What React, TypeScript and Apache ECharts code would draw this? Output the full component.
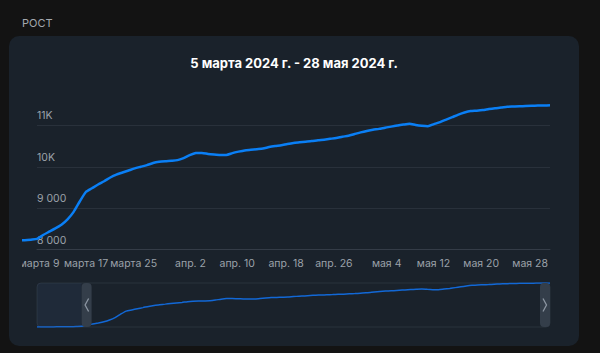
import React, { useEffect, useRef } from "react";
import * as echarts from "echarts";

const dates = [
  "2024-02-26", "2024-02-27", "2024-02-28", "2024-02-29",
  "2024-03-01", "2024-03-02", "2024-03-03", "2024-03-04", "2024-03-05", "2024-03-06", "2024-03-07", "2024-03-08",
  "2024-03-09", "2024-03-10", "2024-03-11", "2024-03-12", "2024-03-13", "2024-03-14", "2024-03-15", "2024-03-16",
  "2024-03-17", "2024-03-18", "2024-03-19", "2024-03-20", "2024-03-21", "2024-03-22", "2024-03-23", "2024-03-24",
  "2024-03-25", "2024-03-26", "2024-03-27", "2024-03-28", "2024-03-29", "2024-03-30", "2024-03-31",
  "2024-04-01", "2024-04-02", "2024-04-03", "2024-04-04", "2024-04-05", "2024-04-06", "2024-04-07", "2024-04-08",
  "2024-04-09", "2024-04-10", "2024-04-11", "2024-04-12", "2024-04-13", "2024-04-14", "2024-04-15", "2024-04-16",
  "2024-04-17", "2024-04-18", "2024-04-19", "2024-04-20", "2024-04-21", "2024-04-22", "2024-04-23", "2024-04-24",
  "2024-04-25", "2024-04-26", "2024-04-27", "2024-04-28", "2024-04-29", "2024-04-30",
  "2024-05-01", "2024-05-02", "2024-05-03", "2024-05-04", "2024-05-05", "2024-05-06", "2024-05-07", "2024-05-08",
  "2024-05-09", "2024-05-10", "2024-05-11", "2024-05-12", "2024-05-13", "2024-05-14", "2024-05-15", "2024-05-16",
  "2024-05-17", "2024-05-18", "2024-05-19", "2024-05-20", "2024-05-21", "2024-05-22", "2024-05-23", "2024-05-24",
  "2024-05-25", "2024-05-26", "2024-05-27", "2024-05-28",
];

const values = [
  8205, 8208, 8210, 8213,
  8216, 8220, 8225, 8238, 8255, 8350, 8430, 8510,
  8600, 8730, 8910, 9160, 9390, 9480, 9570, 9650,
  9740, 9810, 9860, 9910, 9960, 10000, 10040, 10090,
  10120, 10135, 10145, 10160, 10210, 10280, 10330,
  10335, 10310, 10295, 10285, 10285, 10330, 10365, 10395,
  10410, 10425, 10440, 10475, 10500, 10520, 10550, 10575,
  10590, 10605, 10620, 10640, 10655, 10675, 10695, 10725,
  10750, 10790, 10830, 10865, 10895, 10915,
  10945, 10970, 10995, 11020, 11040, 11010, 10990, 10980,
  11030, 11080, 11140, 11200, 11260, 11310, 11345, 11355,
  11370, 11395, 11415, 11430, 11450, 11455, 11460, 11470,
  11475, 11478, 11480, 11485,
];

const rangeStart = "2024-03-05";
const rangeEnd = "2024-05-28";
const titleText = "5 марта 2024 г. - 28 мая 2024 г.";
const sectionLabel = "РОСТ";
const monthNames = ["янв.", "февр.", "марта", "апр.", "мая", "июня", "июля", "авг.", "сент.", "окт.", "нояб.", "дек."];
const yMin = 8000;
const yMax = 12000;
const yStep = 1000;
const xLabelStep = 8;
const xLabelFirst = 4;

const DAY = 86400000;
const toUTC = (s: string) => {
  const [y, m, d] = s.split("-").map(Number);
  return Date.UTC(y, m - 1, d);
};
const base = toUTC(rangeStart);
const dayNum = (s: string) => Math.round((toUTC(s) - base) / DAY);

const fmtDay = (v: number) => {
  const dt = new Date(base + v * DAY);
  return `${monthNames[dt.getUTCMonth()]} ${dt.getUTCDate()}`;
};
const fmtY = (v: number) => {
  if (v >= 10000) return `${v / 1000}K`;
  const s = String(v);
  return s.slice(0, s.length - 3) + " " + s.slice(s.length - 3);
};

const GRID_LEFT = 15;
const GRID_RIGHT = 16;
const GRID_TOP = 84;
const GRID_H = 165.5;

export default function App() {
  const ref = useRef<HTMLDivElement>(null);
  useEffect(() => {
    if (!ref.current) return;
    const chart = echarts.init(ref.current, null, { renderer: "svg" });
    const width = ref.current.clientWidth;
    const points = dates.map((d, i) => [dayNum(d), values[i]]);
    const endDay = dayNum(rangeEnd);
    const firstDay = dayNum(dates[0]);
    // the line layer spans the whole container width, on the same day scale as the axis grid
    const pxPerDay = (width - GRID_LEFT - GRID_RIGHT) / endDay;
    const lineMin = -GRID_LEFT / pxPerDay;
    const font = "Inter, 'Noto Sans', sans-serif";
    chart.setOption({
      animation: false,
      backgroundColor: "transparent",
      title: [
        {
          text: sectionLabel,
          left: 0,
          top: 17,
          padding: 0,
          textStyle: { color: "#a3a8ae", fontSize: 11, fontWeight: "normal", fontFamily: font },
        },
        {
          text: titleText,
          left: "center",
          top: 56,
          padding: 0,
          textStyle: { color: "#ffffff", fontSize: 13, fontWeight: "bold", fontFamily: font },
        },
      ],
      grid: [
        { left: GRID_LEFT, right: GRID_RIGHT, top: GRID_TOP, height: GRID_H, outerBoundsMode: "none", containLabel: false },
        { left: GRID_LEFT, right: GRID_RIGHT, top: 283, height: 44, outerBoundsMode: "none", containLabel: false },
        { left: 0, right: GRID_RIGHT, top: GRID_TOP, height: GRID_H, outerBoundsMode: "none", containLabel: false },
      ],
      xAxis: [
        {
          type: "value",
          gridIndex: 0,
          min: 0,
          max: endDay,
          interval: 4,
          axisLine: { show: true, lineStyle: { color: "#343c47", width: 1 } },
          axisTick: { show: false },
          splitLine: { show: false },
          axisLabel: {
            color: "#9aa1a9",
            fontSize: 10.5,
            fontFamily: font,
            margin: 8,
            align: "right",
            padding: [0, 2, 0, 0],
            hideOverlap: false,
            formatter: (v: number) => ((v - xLabelFirst) % xLabelStep === 0 && v >= xLabelFirst ? fmtDay(v) : ""),
          },
        },
        {
          type: "value",
          gridIndex: 1,
          min: firstDay,
          max: endDay,
          show: false,
        },
        {
          type: "value",
          gridIndex: 2,
          min: lineMin,
          max: endDay,
          show: false,
        },
      ],
      yAxis: [
        {
          type: "value",
          gridIndex: 0,
          min: yMin,
          max: yMax,
          interval: yStep,
          axisLine: { show: false },
          axisTick: { show: false },
          splitLine: {
            show: true,
            showMinLine: false,
            showMaxLine: false,
            lineStyle: { color: "#29313b", width: 1 },
          },
          axisLabel: {
            inside: true,
            margin: 0,
            verticalAlign: "bottom",
            padding: [0, 0, 4, 0],
            color: "#9aa1a9",
            fontSize: 10.5,
            fontFamily: font,
            showMaxLabel: false,
            formatter: (v: number) => fmtY(v),
          },
        },
        {
          type: "value",
          gridIndex: 1,
          min: (e: any) => e.min,
          max: (e: any) => e.max,
          show: false,
        },
        {
          type: "value",
          gridIndex: 2,
          min: yMin,
          max: yMax,
          show: false,
        },
      ],
      series: [
        {
          type: "line",
          xAxisIndex: 2,
          yAxisIndex: 2,
          data: points,
          showSymbol: false,
          clip: false,
          smooth: 0.2,
          silent: true,
          lineStyle: { color: "#0a7ff5", width: 2.5 },
          z: 3,
        },
        {
          type: "line",
          xAxisIndex: 1,
          yAxisIndex: 1,
          data: points,
          showSymbol: false,
          smooth: 0.2,
          silent: true,
          lineStyle: { color: "#1268d6", width: 1.5 },
          z: 3,
        },
      ],
    });

    const xL = chart.convertToPixel({ xAxisIndex: 1 }, 0) as number;
    const xR = chart.convertToPixel({ xAxisIndex: 1 }, endDay) as number;
    const x0 = chart.convertToPixel({ xAxisIndex: 1 }, firstDay) as number;
    const top = 283;
    const h = 44;
    const hw = 10;
    const cy = top + h / 2;
    chart.setOption({
      graphic: [
        {
          type: "rect",
          z: 1,
          shape: { x: x0, y: top, width: xR - x0, height: h, r: 4 },
          style: { fill: "rgba(0,0,0,0)", stroke: "#29323d", lineWidth: 1 },
        },
        {
          type: "rect",
          z: 5,
          shape: { x: x0, y: top, width: xL - x0, height: h, r: [4, 0, 0, 4] },
          style: { fill: "rgba(60,90,130,0.16)" },
        },
        {
          type: "rect",
          z: 10,
          shape: { x: xL, y: top, width: hw, height: h, r: 4 },
          style: { fill: "#343e4a" },
        },
        {
          type: "polyline",
          z: 11,
          shape: { points: [[xL + 7, cy - 6.5], [xL + 3.5, cy], [xL + 7, cy + 6.5]] },
          style: { stroke: "#8c96a2", lineWidth: 1.3, fill: null },
        },
        {
          type: "rect",
          z: 10,
          shape: { x: xR - hw, y: top, width: hw, height: h, r: 4 },
          style: { fill: "#343e4a" },
        },
        {
          type: "polyline",
          z: 11,
          shape: { points: [[xR - 7, cy - 6.5], [xR - 3.5, cy], [xR - 7, cy + 6.5]] },
          style: { stroke: "#8c96a2", lineWidth: 1.3, fill: null },
        },
      ],
    });
    return () => chart.dispose();
  }, []);

  return (
    <div
      style={{
        position: "fixed",
        left: 0,
        top: 0,
        width: 600,
        height: 353,
        background: "#131313",
        overflow: "hidden",
      }}
    >
      <div
        style={{
          position: "absolute",
          left: 9,
          top: 36,
          width: 570,
          height: 310,
          background: "#1a222b",
          borderRadius: 10,
        }}
      />
      <div
        ref={ref}
        style={{ position: "absolute", left: 22, top: 0, width: 544, height: 353, overflow: "hidden" }}
      />
    </div>
  );
}
